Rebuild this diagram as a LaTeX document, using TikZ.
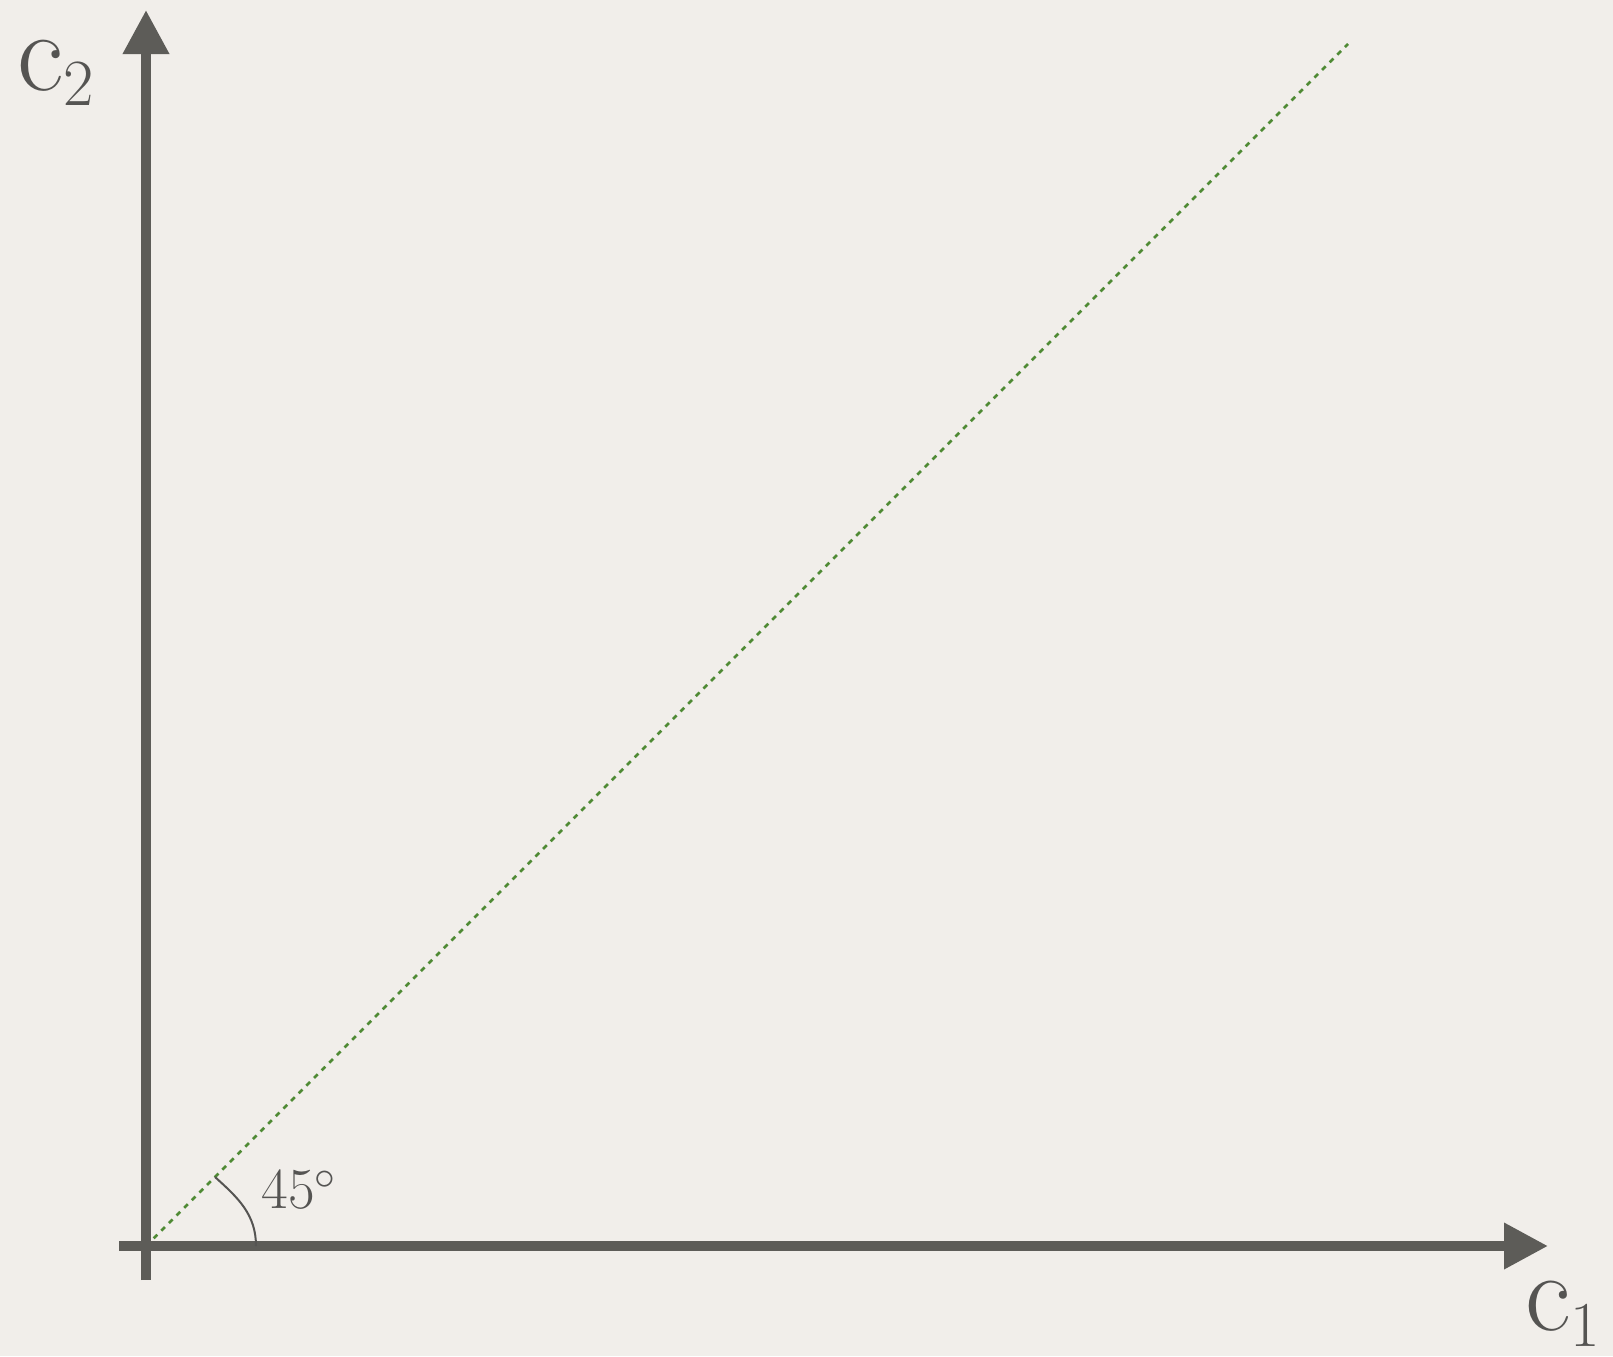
\documentclass[tikz,border=0pt]{standalone}
\usetikzlibrary{arrows.meta}
\definecolor{bg}{HTML}{F1EEEA}
\definecolor{axisgray}{HTML}{5D5C58}
\definecolor{dashgreen}{HTML}{4F8A34}
\definecolor{labelgray}{HTML}{555452}
\begin{document}
\begin{tikzpicture}[x=0.5pt,y=-0.5pt,
  axis/.style={draw=axisgray,line width=5pt,-{Triangle[length=22pt,width=22pt]}},
  guide/.style={draw=dashgreen,line width=1.3pt,dash pattern=on 2.6pt off 2.8pt},
  anglearc/.style={draw=labelgray,line width=1pt},
  lbl/.style={anchor=base west,inner sep=0pt,text=labelgray}]
\fill[bg] (0,0) rectangle (1613,1356);
\useasboundingbox (0,0) rectangle (1613,1356);
\coordinate (O) at (146,1246);
\coordinate (vb) at (146,1280);
\coordinate (vt) at (146,10);
\coordinate (hl) at (119,1246);
\coordinate (hr) at (1548,1246);
\coordinate (D) at (1348,44);
\coordinate (as) at (215,1177);
\coordinate (ae) at (256,1246);
\draw[guide] (O) -- (D);
\draw[axis] (vb) -- (vt);
\draw[axis] (hl) -- (hr);
\draw[anglearc] (as) to[out=-42,in=90] (ae);
\node[lbl] (c2) at (17,90) {\fontsize{57}{60}\selectfont c\raisebox{-7.5pt}{\fontsize{33}{36}\selectfont 2}};
\node[lbl] (c1) at (1525,1330) {\fontsize{56}{60}\selectfont c\raisebox{-8pt}{\fontsize{32}{36}\selectfont 1}};
\node[lbl] (ang) at (261,1208) {\fontsize{29}{32}\selectfont 45$^{\circ}$};
\end{tikzpicture}
\end{document}
